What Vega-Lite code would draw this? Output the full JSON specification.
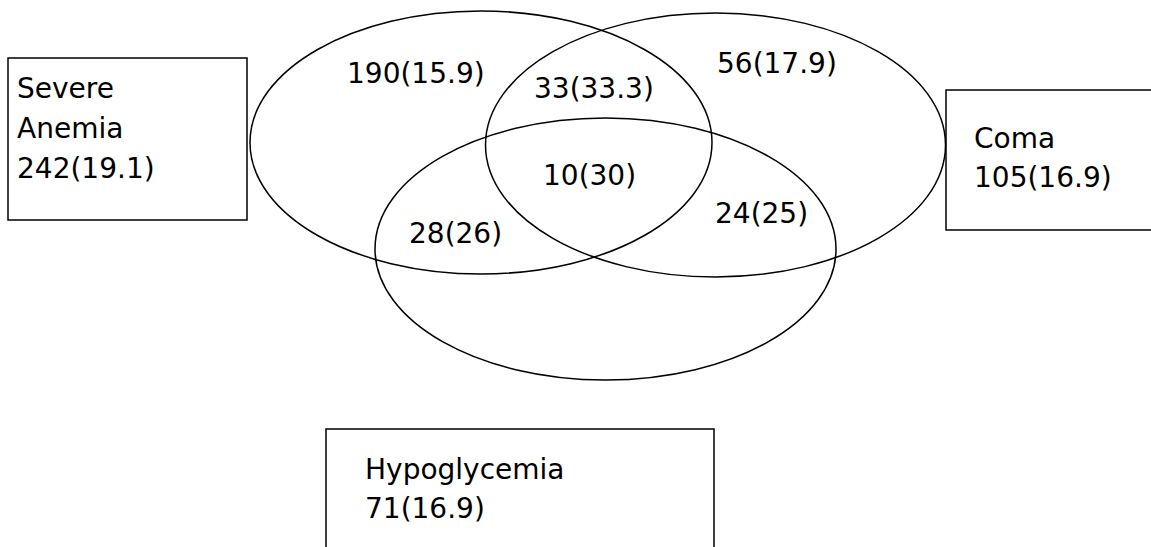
{
  "$schema": "https://vega.github.io/schema/vega-lite/v6.json",
  "width": 1151,
  "height": 547,
  "autosize": {"type": "fit", "contains": "padding"},
  "padding": 0,
  "background": "white",
  "config": {"view": {"stroke": null}},
  "datasets": {
    "boxes": [
      {"name": "Severe Anemia", "x1": 8, "x2": 247, "y1": 58, "y2": 220},
      {"name": "Coma", "x1": 946, "x2": 1170, "y1": 90, "y2": 230},
      {"name": "Hypoglycemia", "x1": 326, "x2": 714, "y1": 429, "y2": 570}
    ],
    "sets": [
      {"set": "Severe Anemia", "cx": 481, "cy": 142.5},
      {"set": "Coma", "cx": 715.5, "cy": 145},
      {"set": "Hypoglycemia", "cx": 605.5, "cy": 249}
    ],
    "labels": [
      {"label": "Severe", "x": 17, "y": 98},
      {"label": "Anemia", "x": 17, "y": 138},
      {"label": "242(19.1)", "x": 17, "y": 178},
      {"label": "Coma", "x": 974, "y": 148},
      {"label": "105(16.9)", "x": 974, "y": 187},
      {"label": "Hypoglycemia", "x": 365, "y": 479},
      {"label": "71(16.9)", "x": 365, "y": 518},
      {"label": "190(15.9)", "x": 347, "y": 83},
      {"label": "33(33.3)", "x": 534, "y": 98},
      {"label": "10(30)", "x": 543, "y": 185},
      {"label": "56(17.9)", "x": 717, "y": 73},
      {"label": "24(25)", "x": 715, "y": 223},
      {"label": "28(26)", "x": 409, "y": 243}
    ]
  },
  "layer": [
    {
      "data": {"name": "boxes"},
      "mark": {"type": "rect", "fill": "white", "fillOpacity": 0, "stroke": "black", "strokeWidth": 1.5, "clip": true},
      "encoding": {
        "x": {"field": "x1", "type": "quantitative", "scale": {"domain": [0, 1151], "nice": false, "zero": false}, "axis": null},
        "x2": {"field": "x2"},
        "y": {"field": "y1", "type": "quantitative", "scale": {"domain": [0, 547], "nice": false, "zero": false, "reverse": true}, "axis": null},
        "y2": {"field": "y2"}
      }
    },
    {
      "data": {"name": "sets"},
      "mark": {"type": "point", "filled": false, "color": "black", "strokeWidth": 1.5, "size": 4, "opacity": 1},
      "encoding": {
        "x": {"field": "cx", "type": "quantitative", "axis": null},
        "y": {"field": "cy", "type": "quantitative", "axis": null},
        "shape": {
          "field": "set",
          "type": "nominal",
          "legend": null,
          "scale": {
            "domain": ["Severe Anemia", "Coma", "Hypoglycemia"],
            "range": [
              "M -231 0 A 231 131.5 0 1 0 231 0 A 231 131.5 0 1 0 -231 0 Z",
              "M -230 0 A 230 132 0 1 0 230 0 A 230 132 0 1 0 -230 0 Z",
              "M -230.5 0 A 230.5 131 0 1 0 230.5 0 A 230.5 131 0 1 0 -230.5 0 Z"
            ]
          }
        }
      }
    },
    {
      "data": {"name": "labels"},
      "mark": {"type": "text", "align": "left", "baseline": "alphabetic", "font": "DejaVu Sans", "fontSize": 28, "color": "black"},
      "encoding": {
        "x": {"field": "x", "type": "quantitative", "axis": null},
        "y": {"field": "y", "type": "quantitative", "axis": null},
        "text": {"field": "label"}
      }
    }
  ]
}
